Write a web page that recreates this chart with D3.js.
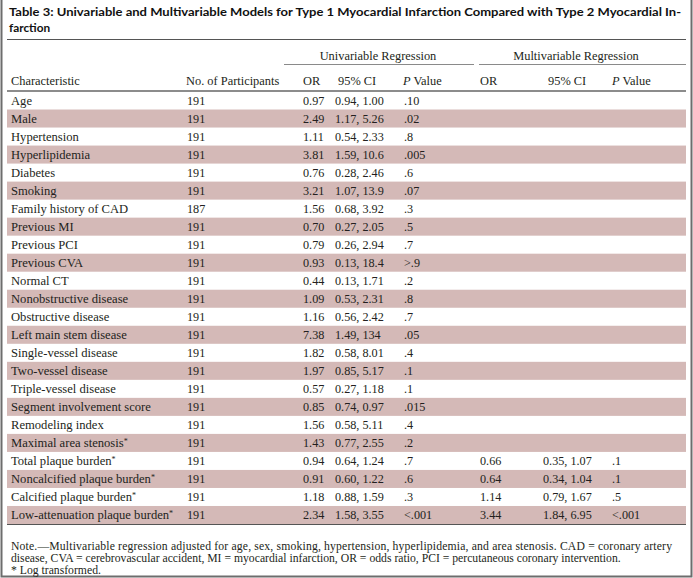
<!DOCTYPE html>
<html><head><meta charset="utf-8">
<script src="https://cdn.jsdelivr.net/npm/d3@7"></script>
<style>
html,body{margin:0;padding:0;background:#fff;}
svg{display:block;}
</style></head>
<body>
<svg id="chart" width="693" height="578"></svg>
<script>
// ---------- DATA ----------
const titleLines = [
  "Table 3: Univariable and Multivariable Models for Type 1 Myocardial Infarction Compared with Type 2 Myocardial In-",
  "farction"
];
const characteristics = [
  "Age","Male","Hypertension","Hyperlipidemia","Diabetes","Smoking","Family history of CAD",
  "Previous MI","Previous PCI","Previous CVA","Normal CT","Nonobstructive disease","Obstructive disease",
  "Left main stem disease","Single-vessel disease","Two-vessel disease","Triple-vessel disease",
  "Segment involvement score","Remodeling index","Maximal area stenosis*","Total plaque burden*",
  "Noncalcified plaque burden*","Calcified plaque burden*","Low-attenuation plaque burden*"
];
const participants = [191,191,191,191,191,191,187,191,191,191,191,191,191,191,191,191,191,191,191,191,191,191,191,191];
const uniOR = ["0.97","2.49","1.11","3.81","0.76","3.21","1.56","0.70","0.79","0.93","0.44","1.09","1.16","7.38","1.82","1.97","0.57","0.85","1.56","1.43","0.94","0.91","1.18","2.34"];
const uniCI = ["0.94, 1.00","1.17, 5.26","0.54, 2.33","1.59, 10.6","0.28, 2.46","1.07, 13.9","0.68, 3.92","0.27, 2.05","0.26, 2.94","0.13, 18.4","0.13, 1.71","0.53, 2.31","0.56, 2.42","1.49, 134","0.58, 8.01","0.85, 5.17","0.27, 1.18","0.74, 0.97","0.58, 5.11","0.77, 2.55","0.64, 1.24","0.60, 1.22","0.88, 1.59","1.58, 3.55"];
const uniP = [".10",".02",".8",".005",".6",".07",".3",".5",".7",">.9",".2",".8",".7",".05",".4",".1",".1",".015",".4",".2",".7",".6",".3","<.001"];
const multiOR = ["","","","","","","","","","","","","","","","","","","","","0.66","0.64","1.14","3.44"];
const multiCI = ["","","","","","","","","","","","","","","","","","","","","0.35, 1.07","0.34, 1.04","0.79, 1.67","1.84, 6.95"];
const multiP = ["","","","","","","","","","","","","","","","","","","","",".1",".1",".5","<.001"];
const groupHeaders = ["Univariable Regression","Multivariable Regression"];
const columnHeaders = ["Characteristic","No. of Participants","OR","95% CI","P Value","OR","95% CI","P Value"];
const notes = [
  "Note.\u2014Multivariable regression adjusted for age, sex, smoking, hypertension, hyperlipidemia, and area stenosis. CAD = coronary artery",
  "disease, CVA = cerebrovascular accident, MI = myocardial infarction, OR = odds ratio, PCI = percutaneous coronary intervention.",
  "* Log transformed."
];

// ---------- LAYOUT ----------
const W = 693, H = 578;
const left = 7, right = 686;
const serif = "'Liberation Serif','Times New Roman',serif";
const sans = "Lato,'Open Sans','DejaVu Sans',sans-serif";
const textColor = "#231f20";
const shade = "#d4b9b7";
const colX = [11, 187, 303, 335, 404, 480, 543, 612];
const headerX = [11, 186, 303, 338, 403, 480, 548, 612];
const groupSpan = [[284, 474], [479, 686]];
const groupCenter = [378, 576];

const svg = d3.select("#chart");
const n = characteristics.length;
const y = d3.scaleBand().domain(d3.range(n)).range([91.5, 524]).paddingInner(0).paddingOuter(0);

// frame
svg.append("path")
  .attr("d", `M1.5,0 V${H-1.5} H${W-1.5} V0`)
  .attr("fill","none").attr("stroke","#6d6d6d").attr("stroke-width",2);

// title
svg.selectAll("text.title").data(titleLines).join("text")
  .attr("class","title")
  .attr("x", 9).attr("y", (d,i)=> 15.5 + i*16)
  .attr("font-family", sans).attr("font-weight", 700).attr("font-size", 11.8)
  .attr("fill", "#111")
  .attr("textLength", (d,i)=> i===0 ? 672 : null)
  .attr("lengthAdjust","spacingAndGlyphs")
  .text(d=>d);

// title rule
svg.append("line").attr("x1",left).attr("x2",right).attr("y1",39.5).attr("y2",39.5)
  .attr("stroke","#555").attr("stroke-width",1);

// row shading
svg.selectAll("rect.shade").data(d3.range(n).filter(i=>i%2===1)).join("rect")
  .attr("class","shade")
  .attr("x", left).attr("width", right-left)
  .attr("y", i=>y(i)).attr("height", y.bandwidth())
  .attr("fill", shade);

// group headers + underline
groupHeaders.forEach((g,i)=>{
  const [a,b] = groupSpan[i];
  svg.append("text").attr("x",groupCenter[i]).attr("y",59.5)
    .attr("text-anchor","middle").attr("font-family",serif).attr("font-size",12.4)
    .attr("fill",textColor).text(g);
  svg.append("line").attr("x1",a).attr("x2",b).attr("y1",64.5).attr("y2",64.5)
    .attr("stroke","#8a8a8a").attr("stroke-width",1.2);
});

// column headers
columnHeaders.forEach((h,i)=>{
  const t = svg.append("text").attr("x",headerX[i]).attr("y",84.5)
    .attr("font-family",serif).attr("font-size",12.4).attr("fill",textColor);
  if (h.startsWith("P ")) {
    t.append("tspan").attr("font-style","italic").text("P");
    t.append("tspan").text(" " + h.slice(2));
  } else t.text(h);
});

// header rule (thick)
svg.append("line").attr("x1",left).attr("x2",right).attr("y1",91).attr("y2",91)
  .attr("stroke","#8c8c8c").attr("stroke-width",2.2);

// bottom rule
svg.append("line").attr("x1",left).attr("x2",right).attr("y1",524.5).attr("y2",524.5)
  .attr("stroke","#555").attr("stroke-width",1.2);

// cells
const columns = [characteristics, participants, uniOR, uniCI, uniP, multiOR, multiCI, multiP];
const rows = svg.selectAll("g.row").data(d3.range(n)).join("g")
  .attr("class","row")
  .attr("transform", i=>`translate(0,${y(i)+y.bandwidth()/2+4.2})`);

columns.forEach((col,ci)=>{
  rows.append("text")
    .attr("x", colX[ci])
    .attr("font-family", serif).attr("font-size", ci===0 ? 12.6 : 12.2).attr("fill", textColor)
    .each(function(i){
      const v = String(col[i]);
      const t = d3.select(this);
      if (ci===0 && v.endsWith("*")) {
        t.append("tspan").text(v.slice(0,-1));
        t.append("tspan").attr("font-size",8).attr("dy",-3).text("*");
      } else t.text(v);
    });
});

// notes
svg.selectAll("text.note").data(notes).join("text")
  .attr("class","note")
  .attr("x", 11).attr("y",(d,i)=> 550 + i*12.2)
  .attr("font-family", serif).attr("font-size", 11.7).attr("fill", textColor)
  .attr("textLength",(d,i)=> i===0 ? 661 : null)
  .attr("lengthAdjust","spacing")
  .text(d=>d);
</script>
</body></html>
